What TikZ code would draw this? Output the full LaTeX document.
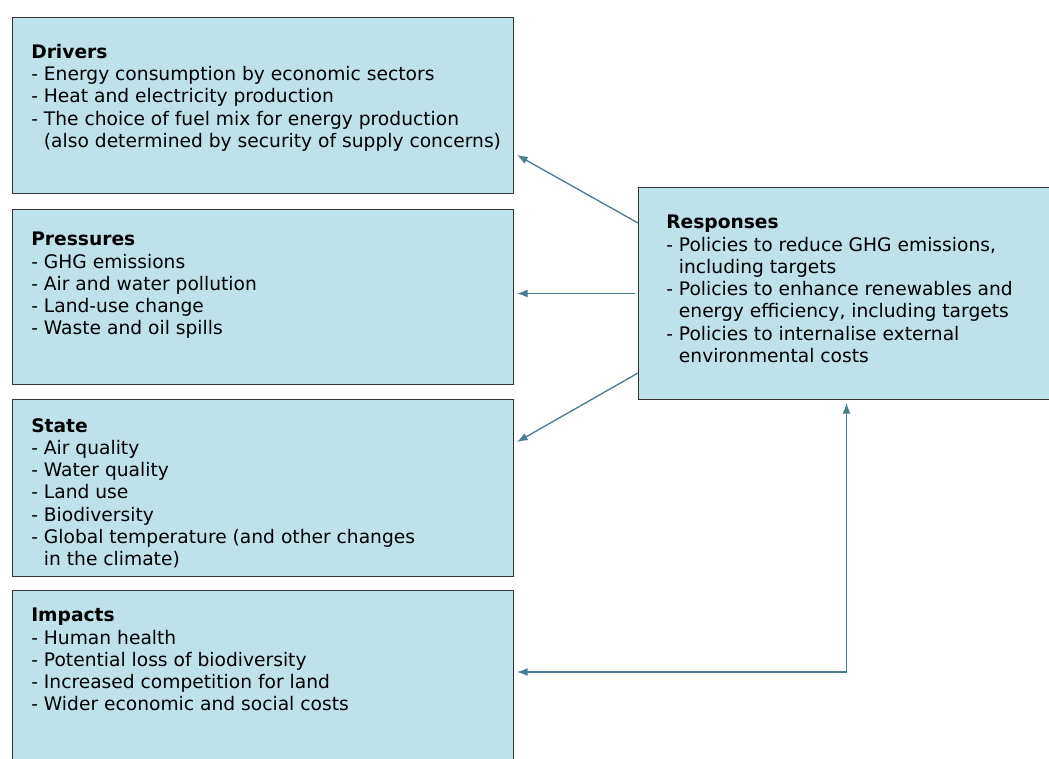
\documentclass[tikz,border=0pt]{standalone}
\usepackage{fontspec}
\setmainfont{DejaVu Sans}
\usepackage{tikz}
\usetikzlibrary{arrows.meta}
\tikzstyle{diagram} = [x = 0.75pt, y = -0.75pt]
\definecolor{boxFill}{RGB}{190,226,233}
\definecolor{linkColor}{RGB}{76,124,145}
\tikzstyle{boxStyle} = [draw=black!80, fill=boxFill, line width=0.75pt, rectangle, inner sep=0pt, anchor=north west]
\tikzstyle{boxText} = [anchor=north west, align=left, inner sep=0pt, font=\fontsize{14pt}{16.7pt}\selectfont]
\tikzstyle{link} = [color=linkColor, line width=1pt, -{Latex[length=8pt, width=6pt]}]
\newcommand{\contLine}{\phantom{- }}
\newcommand{\dpsirBox}[5]{\node [boxStyle, minimum width=#4*0.75pt, minimum height=#5*0.75pt] (#1) at (#2, #3) {};}
\newcommand{\boxLabel}[4]{\node [boxText] (#1Text) at ([shift={(#2,#3)}]#1.north west) {#4};}

\begin{document}
\begin{tikzpicture}[diagram]
    \useasboundingbox (0,0) rectangle (1049,758);
    \dpsirBox{drivers}{12}{17}{501}{176}
    \dpsirBox{pressures}{12}{209}{501}{175}
    \dpsirBox{state}{12}{399}{501}{177}
    \dpsirBox{impacts}{12}{590}{501}{190}
    \dpsirBox{responses}{638}{187}{416}{212}
    \boxLabel{drivers}{19}{27}{\textbf{Drivers}\\- Energy consumption by economic sectors\\- Heat and electricity production\\- The choice of fuel mix for energy production\\\contLine(also determined by security of supply concerns)}
    \boxLabel{pressures}{19}{23}{\textbf{Pressures}\\- GHG emissions\\- Air and water pollution\\- Land-use change\\- Waste and oil spills}
    \boxLabel{state}{19}{19}{\textbf{State}\\- Air quality\\- Water quality\\- Land use\\- Biodiversity\\- Global temperature (and other changes\\\contLine in the climate)}
    \boxLabel{impacts}{19}{18}{\textbf{Impacts}\\- Human health\\- Potential loss of biodiversity\\- Increased competition for land\\- Wider economic and social costs}
    \boxLabel{responses}{28}{28}{\textbf{Responses}\\- Policies to reduce GHG emissions,\\\contLine including targets\\- Policies to enhance renewables and\\\contLine energy efficiency, including targets\\- Policies to internalise external\\\contLine environmental costs}
    \coordinate (bend) at ([shift={(0,272)}]responses.south);
    \draw [link] ([shift={(0,36)}]responses.north west) -- ([shift={(3,-39)}]drivers.south east);
    \draw [link] ([shift={(-3,0)}]responses.west) -- ([shift={(3,0)}]responses.west -| pressures.east);
    \draw [link] ([shift={(0,-27)}]responses.south west) -- ([shift={(3,43)}]state.north east);
    \draw [link, {Latex[length=8pt, width=6pt]}-{Latex[length=8pt, width=6pt]}] ([shift={(3,0)}]bend -| impacts.east) -- (bend) -- ([shift={(0,3)}]responses.south);
\end{tikzpicture}
\end{document}
